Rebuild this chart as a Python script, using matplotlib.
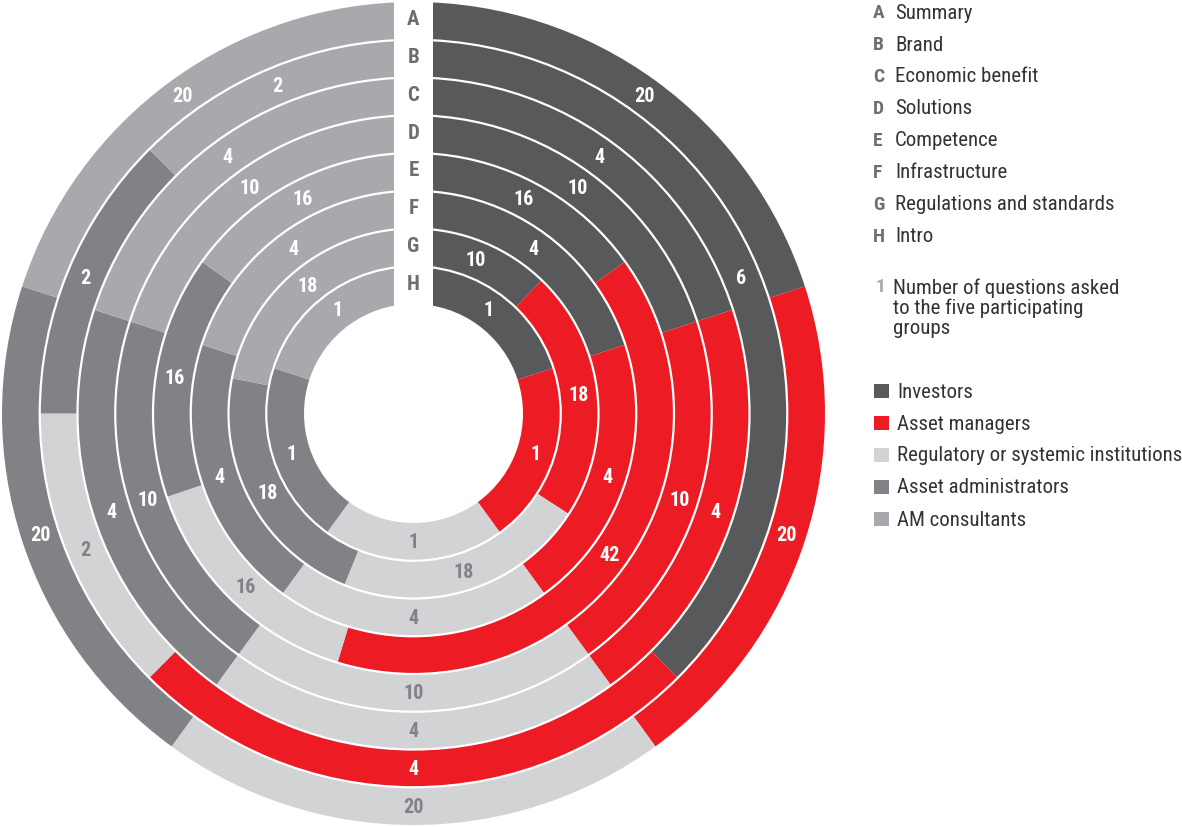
import math
import matplotlib
matplotlib.use('Agg')
import matplotlib.pyplot as plt
from matplotlib.patches import Wedge, Circle, Rectangle
from matplotlib import font_manager

# pick a narrow face if there is one
names = set(f.name for f in font_manager.fontManager.ttflist)
family = 'DejaVu Sans'
for cand in ['Roboto Condensed', 'Liberation Sans Narrow', 'DejaVu Sans Condensed', 'Liberation Sans']:
    if cand in names:
        family = cand
        break
plt.rcParams['font.family'] = family

# sections, A outermost ring
sections = ['A', 'B', 'C', 'D', 'E', 'F', 'G', 'H']
section_names = ['Summary', 'Brand', 'Economic benefit', 'Solutions', 'Competence',
                 'Infrastructure', 'Regulations and standards', 'Intro']

groups = ['Investors', 'Asset managers', 'Regulatory or systemic institutions',
          'Asset administrators', 'AM consultants']

# questions asked per section and group
investors = [20, 6, 4, 10, 16, 4, 10, 1]
asset_managers = [20, 4, 4, 10, 42, 4, 18, 1]
regulatory = [20, 2, 4, 10, 16, 4, 18, 1]
administrators = [20, 2, 4, 10, 16, 4, 18, 1]
consultants = [20, 2, 4, 10, 16, 4, 18, 1]

colors = ['#58595b', '#ed1c24', '#d1d3d4', '#808285', '#a7a9ac']
text_colors = ['white', 'white', '#808285', 'white', 'white']

W, H = 1182, 828
fig = plt.figure(figsize=(W / 100, H / 100), dpi=100)
ax = fig.add_axes([0, 0, 1, 1])
ax.set_xlim(0, W)
ax.set_ylim(0, H)
ax.set_aspect('equal')
ax.axis('off')

cx, cy = 413.5, H - 414.5
r_out = 411.5
r_in = 109.5
ring_w = (r_out - r_in) / len(sections)

series = [investors, asset_managers, regulatory, administrators, consultants]

for i in range(len(sections)):
    vals = [s[i] for s in series]
    total = float(sum(vals))
    r = r_out - i * ring_w
    r_mid = r - ring_w / 2
    a0 = 0.0
    for j, v in enumerate(vals):
        a1 = a0 + v / total * 360.0
        # clockwise from 12 o'clock
        ax.add_patch(Wedge((cx, cy), r, 90 - a1, 90 - a0, width=ring_w,
                           facecolor=colors[j], edgecolor='none'))
        am = math.radians((a0 + a1) / 2)
        ax.text(cx + r_mid * math.sin(am), cy + r_mid * math.cos(am), str(v),
                ha='center', va='center', fontsize=14.5, fontweight='bold',
                color=text_colors[j])
        a0 = a1

# white lines between rings
for i in range(1, len(sections)):
    ax.add_patch(Circle((cx, cy), r_out - i * ring_w, fill=False,
                        edgecolor='white', linewidth=1.6))

# gap at the top holding the section letters
ax.add_patch(Rectangle((cx - 19.5, cy), 39, H - cy, facecolor='white',
                       edgecolor='none'))
for i, s in enumerate(sections):
    r_mid = r_out - i * ring_w - ring_w / 2
    ax.text(cx, cy + r_mid + 2, s, ha='center', va='center', fontsize=15,
            fontweight='bold', color='#6d6e71')

# legend: sections
lx = 873
for i, (s, n) in enumerate(zip(sections, section_names)):
    y = H - (13 + 32 * i)
    ax.text(lx, y, s, ha='left', va='center', fontsize=14, fontweight='bold',
            color='#6d6e71')
    ax.text(lx + 22, y, n, ha='left', va='center', fontsize=15, color='#333335')

ax.text(lx + 2, H - 287, '1', ha='left', va='center', fontsize=14,
        fontweight='bold', color='#a7a9ac')
ax.text(lx + 20, H - 278, 'Number of questions asked\nto the five participating\ngroups',
        ha='left', va='top', fontsize=15, color='#333335', linespacing=1.08)

# legend: groups
for j, g in enumerate(groups):
    y = H - (392 + 32 * j)
    ax.add_patch(Rectangle((lx + 1, y - 7), 15, 14, facecolor=colors[j],
                           edgecolor='none'))
    ax.text(lx + 24, y, g, ha='left', va='center', fontsize=15, color='#333335')

fig.savefig('out.png', dpi=100)
